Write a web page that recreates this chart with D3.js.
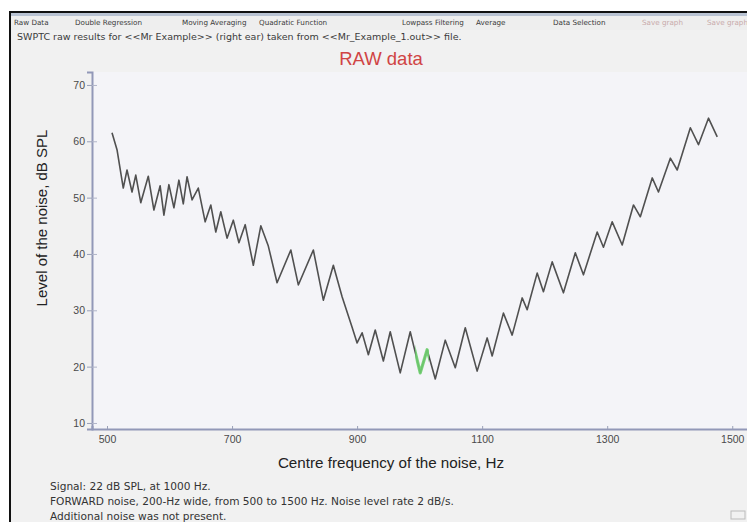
<!DOCTYPE html>
<html>
<head>
<meta charset="utf-8">
<script src="https://cdn.jsdelivr.net/npm/d3@7/dist/d3.min.js"></script>
<style>
  html, body { margin: 0; padding: 0; background: #ffffff; }
  svg { display: block; }
</style>
</head>
<body>
<svg id="chart" width="747" height="522"></svg>
<script>
// Centre frequency of the noise band (Hz) at each turning point of the tracking trace
const freqHz = [
  508, 516, 526, 532, 540, 546, 554, 566, 575, 585, 591, 599, 607, 615, 622, 628,
  636, 646, 657, 666, 674, 682, 692, 702, 711, 721, 734, 746, 758, 772, 794, 806,
  830, 846, 862, 876, 892, 900, 908, 918, 929, 942, 953, 969, 985, 1001, 1012, 1025,
  1041, 1057, 1073, 1092, 1108, 1116, 1134, 1148, 1164, 1172, 1188, 1198, 1212, 1230,
  1249, 1262, 1284, 1294, 1308, 1324, 1342, 1353, 1372, 1382, 1401, 1412, 1433, 1446,
  1462, 1476
];
// Noise level (dB SPL) at the same turning points
const levelDb = [
  61.5, 58.5, 51.7, 54.9, 51.0, 54.0, 49.1, 53.8, 47.8, 52.1, 46.9, 52.3, 48.2, 53.1, 48.9, 53.7,
  49.6, 51.7, 45.7, 48.7, 43.9, 47.5, 42.8, 46.0, 42.0, 45.2, 38.0, 45.0, 41.4, 34.9, 40.7, 34.5,
  40.7, 31.8, 38.0, 32.4, 27.0, 24.2, 26.0, 22.1, 26.5, 21.0, 26.2, 18.9, 26.2, 18.9, 23.0, 17.8,
  24.7, 19.8, 26.9, 19.2, 25.1, 21.9, 29.5, 25.6, 32.2, 30.1, 36.6, 33.3, 38.6, 33.1,
  40.2, 36.3, 43.9, 41.2, 45.7, 41.6, 48.7, 46.6, 53.5, 51.0, 57.0, 54.9, 62.4, 59.4,
  64.1, 60.8
];
// Frequency span around the signal that is highlighted on the trace
const signalBandHz = [993, 1015];

const xTickValues = [500, 700, 900, 1100, 1300, 1500];
const yTickValues = [10, 20, 30, 40, 50, 60, 70];

const menuLabels = ["Raw Data", "Double Regression", "Moving Averaging", "Quadratic Function",
  "Lowpass Filtering", "Average", "Data Selection", "Save graph", "Save graph"];
const menuEnabled = [true, true, true, true, true, true, true, false, false];

const titleText = "RAW data";
const subtitleText = "SWPTC raw results for <<Mr Example>> (right ear) taken from <<Mr_Example_1.out>> file.";
const xAxisTitle = "Centre frequency of the noise, Hz";
const yAxisTitle = "Level  of  the  noise,  dB SPL";
const infoLines = [
  "Signal: 22  dB SPL,   at  1000 Hz.",
  "FORWARD noise, 200-Hz wide, from 500 to 1500 Hz. Noise level rate 2  dB/s.",
  "Additional noise was not present."
];

// ---- layout ----
const W = 747, H = 522;
const plot = { left: 92, right: 751, top: 72, bottom: 429 };
const menuX = [14, 75, 182, 259, 402, 476, 553, 642, 707];
const font = "'Liberation Sans', Arial, sans-serif";
const uiFont = "'DejaVu Sans', Verdana, sans-serif";

const svg = d3.select("#chart");

// window frame
svg.append("rect").attr("x", 0).attr("y", 0).attr("width", W).attr("height", H).attr("fill", "#ffffff");
svg.append("rect").attr("x", 10).attr("y", 12).attr("width", W - 10).attr("height", H - 12).attr("fill", "#f1f1f1");
svg.append("rect").attr("x", 10).attr("y", 11).attr("width", W - 10).attr("height", 2).attr("fill", "#111");
svg.append("rect").attr("x", 9).attr("y", 11).attr("width", 2).attr("height", H - 11).attr("fill", "#111");
// menu bar
svg.append("rect").attr("x", 11).attr("y", 13).attr("width", W - 11).attr("height", 3).attr("fill", "#b9c3d3");
svg.append("rect").attr("x", 11).attr("y", 16).attr("width", W - 11).attr("height", 14).attr("fill", "#eeeeee");

svg.append("g").selectAll("text").data(menuLabels).join("text")
  .attr("x", (d, i) => menuX[i])
  .attr("y", 25)
  .attr("font-family", uiFont)
  .attr("font-size", 7.2)
  .attr("fill", (d, i) => menuEnabled[i] ? "#3a3a3a" : "#c8aaaa")
  .text(d => d);

svg.append("text")
  .attr("x", 17).attr("y", 40)
  .attr("font-family", uiFont).attr("font-size", 9.5).attr("fill", "#3b3b3b")
  .text(subtitleText);

// plot area
svg.append("rect")
  .attr("x", plot.left).attr("y", plot.top)
  .attr("width", plot.right - plot.left).attr("height", plot.bottom - plot.top)
  .attr("fill", "#f4f4f8");

const x = d3.scaleLinear()
  .domain([476, 1530])
  .range([plot.left, plot.right]);
const y = d3.scaleLinear()
  .domain([8.93, 72.3])
  .range([plot.bottom, plot.top]);

// axes
const xAxis = d3.axisBottom(x).tickValues(xTickValues).tickSize(-3).tickPadding(7).tickFormat(d3.format("d"));
const yAxis = d3.axisLeft(y).tickValues(yTickValues).tickSize(5).tickPadding(2).tickFormat(d3.format("d"));

const gx = svg.append("g").attr("transform", `translate(0,${plot.bottom})`).call(xAxis);
const gy = svg.append("g").attr("transform", `translate(${plot.left},0)`).call(yAxis);

[gx, gy].forEach(g => {
  g.select(".domain").attr("stroke", "#9298b8").attr("stroke-width", 2);
  g.selectAll(".tick line").attr("stroke", "#9aa0b8").attr("stroke-width", 1);
  g.selectAll(".tick text").attr("font-family", font).attr("font-size", 10.5).attr("fill", "#4a4a4a");
});
gy.selectAll(".tick").append("line").attr("x1", 0).attr("x2", 5).attr("stroke", "#b0b4c8");

// trace
const pts = freqHz.map((f, i) => [f, levelDb[i]]);
const line = d3.line().x(d => x(d[0])).y(d => y(d[1]));

svg.append("path")
  .datum(pts)
  .attr("d", line)
  .attr("fill", "none")
  .attr("stroke", "#505050")
  .attr("stroke-width", 1.6)
  .attr("stroke-linejoin", "round");

// signal frequency highlight on the trace
svg.append("clipPath").attr("id", "sigclip")
  .append("rect")
  .attr("x", x(signalBandHz[0])).attr("y", plot.top)
  .attr("width", x(signalBandHz[1]) - x(signalBandHz[0]))
  .attr("height", plot.bottom - plot.top);

svg.append("path")
  .datum(pts)
  .attr("d", line)
  .attr("clip-path", "url(#sigclip)")
  .attr("fill", "none")
  .attr("stroke", "#6fd06f")
  .attr("stroke-opacity", 0.9)
  .attr("stroke-width", 3.2)
  .attr("stroke-linejoin", "round");

// titles
svg.append("text")
  .attr("x", 381).attr("y", 65)
  .attr("text-anchor", "middle")
  .attr("font-family", font).attr("font-size", 18.5).attr("fill", "#d04444")
  .text(titleText);

svg.append("text")
  .attr("x", 391).attr("y", 468)
  .attr("text-anchor", "middle")
  .attr("font-family", font).attr("font-size", 15.2).attr("fill", "#222")
  .text(xAxisTitle);

svg.append("text")
  .attr("transform", "translate(47,218) rotate(-90)")
  .attr("text-anchor", "middle")
  .attr("font-family", font).attr("font-size", 15).attr("fill", "#222")
  .text(yAxisTitle);

svg.append("g").selectAll("text").data(infoLines).join("text")
  .attr("x", 50)
  .attr("y", (d, i) => 490 + i * 15)
  .attr("font-family", uiFont).attr("font-size", 10.6).attr("fill", "#333")
  .text(d => d);

// small status widget in the corner
svg.append("rect").attr("x", 731).attr("y", 511).attr("width", 14).attr("height", 8)
  .attr("fill", "none").attr("stroke", "#bbb").attr("stroke-width", 1);
</script>
</body>
</html>
